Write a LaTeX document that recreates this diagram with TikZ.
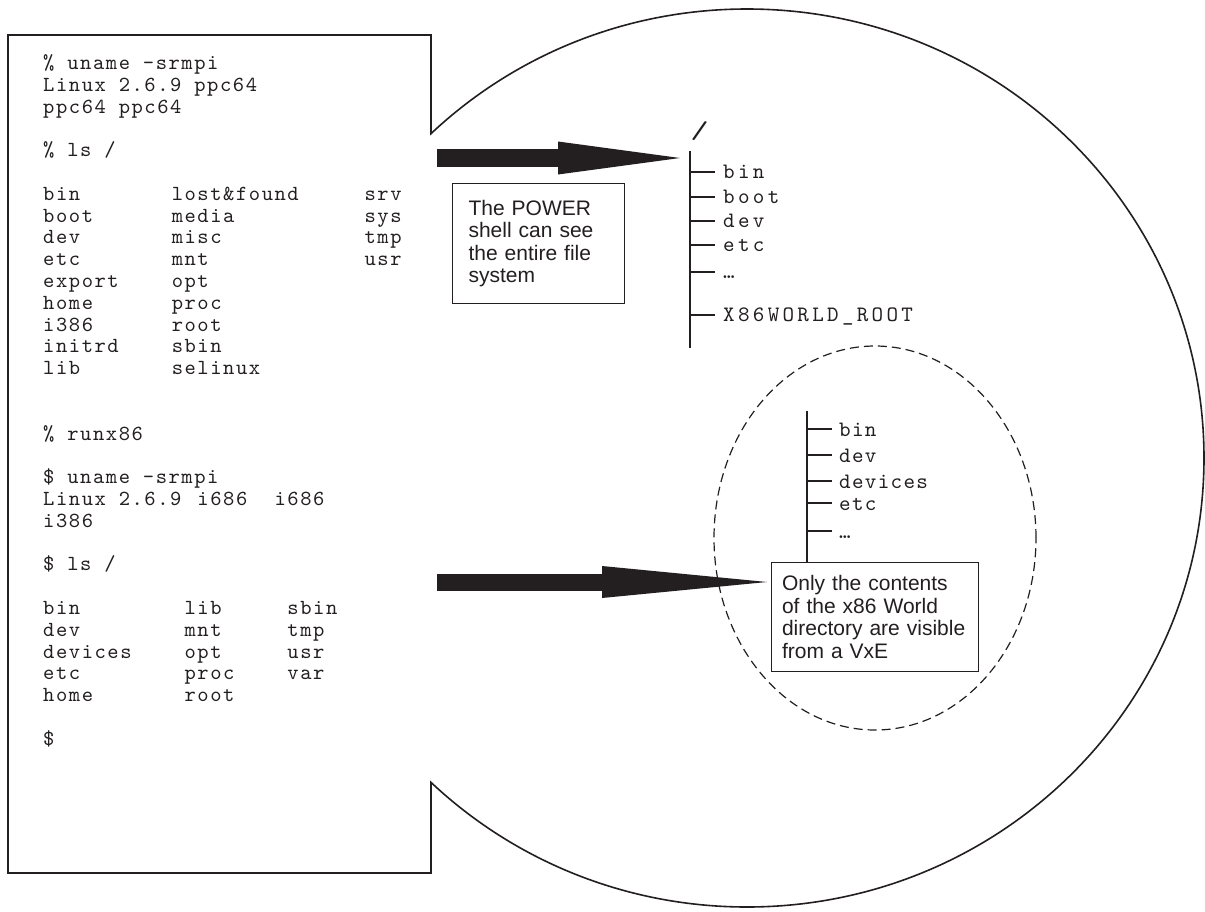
\documentclass[tikz,border=0pt]{standalone}
\usepackage{fontspec}
\setmainfont{Liberation Sans}
\setsansfont{Liberation Sans}
\newfontfamily\lstfont[LetterSpace=7.3]{lmmono10-regular.otf}
\newfontfamily\treefont[LetterSpace=15]{lmmono10-regular.otf}
\newfontfamily\vxetreefont[LetterSpace=6]{lmmono10-regular.otf}
\usepackage{graphicx}
\usepackage{tikz}
\usetikzlibrary{arrows.meta,positioning,calc}
\definecolor{inkblack}{HTML}{231F20}
\newcommand\col[2]{\makebox[\dimexpr0.598em*#1\relax][l]{#2}}

\begin{document}
\begin{tikzpicture}[x=1pt, y=-1pt, color=inkblack,
    outline/.style={line width=1.6pt},
    callout/.style={draw, line width=1pt, anchor=north west, align=left, inner ysep=0pt,
                    font=\fontsize{21}{22.5}\selectfont\sffamily},
    branch/.style={line width=1.4pt},
    upname/.style={anchor=west, inner sep=0pt, text height=12pt, text depth=0pt,
                   font=\fontsize{22}{24}\selectfont\treefont},
    vxename/.style={anchor=west, inner sep=0pt, text height=14pt, text depth=0pt,
                    font=\fontsize{22}{24}\selectfont\vxetreefont}]
\useasboundingbox (0,0) rectangle (1205,911);

% shell window and the bubble round it
\draw[outline, fill=white] (8,35) rectangle (431,873);
\begin{scope}
  \clip (430.2,0) rectangle (1205,911);
  \draw[outline, fill=white] (747,458) ellipse [x radius=457pt, y radius=449pt];
\end{scope}

% the shell session
\node[anchor=north west, inner sep=0pt, align=left,
      font=\fontsize{21.5}{21.8}\selectfont\lstfont] (shell) at (43,54) {%
\strut\% uname -srmpi\\
Linux 2.6.9 ppc64\\
ppc64 ppc64\\
\mbox{}\\
\% ls /\\
\mbox{}\\
\col{10}{bin}\col{15}{lost\&found}srv\\
\col{10}{boot}\col{15}{media}sys\\
\col{10}{dev}\col{15}{misc}tmp\\
\col{10}{etc}\col{15}{mnt}usr\\
\col{10}{export}opt\\
\col{10}{home}proc\\
\col{10}{i386}root\\
\col{10}{initrd}sbin\\
\col{10}{lib}selinux\\
\mbox{}\\
\mbox{}\\
\% runx86\\
\mbox{}\\
\$ uname -srmpi\\
\col{12}{Linux 2.6.9}\col{6}{i686}i686\\
i386\\
\mbox{}\\
\$ ls /\\
\mbox{}\\
\col{11}{bin}\col{8}{lib}sbin\\
\col{11}{dev}\col{8}{mnt}tmp\\
\col{11}{devices}\col{8}{opt}usr\\
\col{11}{etc}\col{8}{proc}var\\
\col{11}{home}root\\
\mbox{}\\
\$};

% whole file system as the POWER shell sees it
\coordinate (uptop) at (690,151);
\coordinate (upend) at (690,348);
\draw[branch] (uptop) -- (upend);
\node[inner sep=0pt, font=\fontsize{22}{24}\selectfont\lstfont] (root) at (699.5,131) {\scalebox{1.6}[1.1]{/}};
\foreach \nm/\yy [count=\i] in {bin/172, boot/197, dev/221, etc/245, \ldots/272, X86WORLD\_ROOT/315}
{
  \node[upname] (up\i) at (723,\yy) {\nm};
  \draw[branch] (up\i.west -| uptop) -- ([xshift=-8pt]up\i.west);
}

% the x86 world
\draw[line width=1.2pt, dash pattern=on 9pt off 5pt] (875,538) ellipse [x radius=161pt, y radius=192pt];

\node[callout, text width=140pt, inner xsep=16pt, minimum height=120pt] (pwrbox) at (452,183)
  {The POWER\\shell can see\\the entire file\\system};
\node[callout, text width=186pt, inner xsep=10.5pt, minimum height=109pt, fill=white] (vxebox) at (771,562)
  {Only the contents\\of the x86 World\\directory are visible\\from a VxE};

\coordinate (vxetop) at (807,411);
\draw[branch] (vxetop) -- (vxetop |- vxebox.north);
\foreach \nm/\yy [count=\i] in {bin/429, dev/455, devices/481, etc/503, \ldots/531}
{
  \node[vxename] (vx\i) at (839,\yy) {\nm};
  \draw[branch] (vx\i.west -| vxetop) -- ([xshift=-7pt]vx\i.west);
}

% fat arrows
\coordinate (pwrtail) at (437,158);
\draw[line width=18pt, -{Triangle[length=122pt, width=33pt, line width=0pt]}, shorten >=10pt]
  (pwrtail) -- (pwrtail -| uptop);
\coordinate (vxetail) at (437,582);
\draw[line width=17pt, -{Triangle[length=165pt, width=32pt, line width=0pt]}, shorten >=4pt]
  (vxetail) -- (vxetail -| vxebox.west);
\end{tikzpicture}
\end{document}
